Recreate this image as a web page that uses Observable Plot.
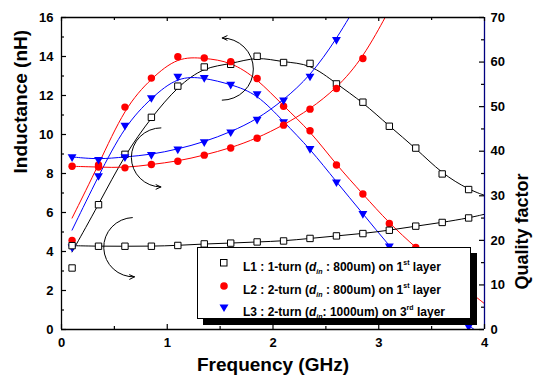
<!DOCTYPE html>
<html><head><meta charset="utf-8">
<script src="https://cdn.jsdelivr.net/npm/d3@7"></script>
<script src="https://cdn.jsdelivr.net/npm/@observablehq/plot@0.6"></script>
<style>
body{margin:0;background:#fff;}
#wrap{position:relative;width:533px;height:383px;font-family:"Liberation Sans",Arial,sans-serif;}
#legend{position:absolute;left:197px;top:247px;width:274px;height:72px;box-sizing:border-box;border:1px solid #000;background:#fff;box-shadow:6px 6px 0 #000;font-weight:bold;font-size:12px;}
#legend .row{position:absolute;left:0;height:16px;display:flex;align-items:center;white-space:nowrap;}
#legend .row svg{position:absolute;left:20px;top:2px;}
#legend .row span{position:absolute;left:45px;top:0;line-height:16px;}
#legend sub{font-size:7px;font-style:italic;vertical-align:-3px;}
#legend sup{font-size:7px;vertical-align:6px;}
</style></head>
<body><div id="wrap"></div>
<script>
// ---- data ----
const freq = [0.1, 0.35, 0.6, 0.85, 1.1, 1.35, 1.6, 1.85, 2.1, 2.35, 2.6, 2.85, 3.1, 3.35, 3.6, 3.85];
// Inductance (nH)
const L1_ind = [4.30, 4.27, 4.27, 4.27, 4.31, 4.39, 4.43, 4.49, 4.54, 4.67, 4.80, 4.92, 5.09, 5.30, 5.49, 5.72];
const L2_ind = [8.37, 8.33, 8.29, 8.46, 8.63, 8.94, 9.31, 9.81, 10.48, 11.30, 12.36, 13.90, 16.4, null, null, null];
const L3_ind = [8.85, 8.72, 8.85, 8.97, 9.25, 9.62, 10.13, 10.78, 11.76, 12.99, 14.87, 17.2, null, null, null, null];
// Quality factor
const L1_q = [13.8, 28.0, 39.3, 47.6, 54.6, 58.9, 59.5, 61.3, 59.9, 59.7, 55.1, 51.0, 45.6, 40.7, 34.9, 31.4];
const L2_q = [20.0, 36.9, 49.9, 56.4, 61.2, 60.9, 60.1, 56.3, 50.1, 44.6, 36.9, 30.4, 23.8, 18.4, 13.2, 8.6];
const L3_q = [18.5, 34.5, 45.8, 52.0, 56.8, 56.5, 55.0, 52.9, 46.6, 40.6, 33.1, 26.0, 18.7, 12.2, 6.2, 0.7];
// fitted-curve ends
const fitQStart = [17.4, 25.0, 22.3];
const fitQEnd = [30.1, 5.8, -1.5];
const fitIndEnd = [5.91, null, null];

const seriesNames = ["L1", "L2", "L3"];
const seriesColors = ["#000000", "#ff0000", "#0000ff"];
const seriesTurns = ["1-turn", "2-turn", "2-turn"];
const seriesDin = [" : 800um", " : 800um", ": 1000um"];
const seriesLayer = ["1", "1", "3"];
const seriesOrd = ["st", "st", "rd"];

const xTicks = [0, 1, 2, 3, 4];
const xMinor = [0.5, 1.5, 2.5, 3.5];
const lTicks = [0, 2, 4, 6, 8, 10, 12, 14, 16];
const lMinor = [1, 3, 5, 7, 9, 11, 13, 15];
const qTicks = [0, 10, 20, 30, 40, 50, 60, 70];
const qMinor = [5, 15, 25, 35, 45, 55, 65];

// curved arrows (annotation), in data units of the left axis
const arrows = [
  {x1: 1.52, y1: 11.76, x2: 1.52, y2: 14.95},
  {x1: 0.94, y1: 10.34, x2: 0.94, y2: 7.31},
  {x1: 0.67, y1: 5.74, x2: 0.69, y2: 2.70}
];

const xLabel = "Frequency (GHz)";
const yLabel = "Inductance (nH)";
const y2Label = "Quality factor";

// ---- helpers ----
const lMax = 16, qMax = 70;
const toY = q => q * lMax / qMax;
const indArr = [L1_ind, L2_ind, L3_ind];
const qArr = [L1_q, L2_q, L3_q];

const dotsInd = [], dotsQ = [], linesInd = [], linesQ = [];
seriesNames.forEach((s, k) => {
  freq.forEach((f, i) => {
    if (indArr[k][i] != null) { dotsInd.push({s, f, v: indArr[k][i]}); linesInd.push({s, f, v: indArr[k][i]}); }
    if (qArr[k][i] != null) dotsQ.push({s, f, v: toY(qArr[k][i])});
    if (qArr[k][i] != null && i > 0) linesQ.push({s, f, v: toY(qArr[k][i])});
    if (i === 0) linesQ.push({s, f, v: toY(fitQStart[k])});
  });
  if (fitIndEnd[k] != null) linesInd.push({s, f: 4, v: fitIndEnd[k]});
  linesQ.push({s, f: 4, v: toY(fitQEnd[k])});
});

const sqrt3 = Math.sqrt(3);
const triangleDown = {
  draw(ctx, size) {
    const y = -Math.sqrt(size / (sqrt3 * 3));
    ctx.moveTo(0, -y * 2);
    ctx.lineTo(-sqrt3 * y, y);
    ctx.lineTo(sqrt3 * y, y);
    ctx.closePath();
  }
};

const W = 423, H = 312;
const color = s => seriesColors[seriesNames.indexOf(s)];

const markFor = (data, s) => {
  const d = data.filter(e => e.s === s);
  if (s === "L1") return Plot.dot(d, {x: "f", y: "v", symbol: "square", r: 3.6, stroke: "#000", fill: "white", strokeWidth: 1, clip: true});
  if (s === "L2") return Plot.dot(d, {x: "f", y: "v", symbol: "circle", r: 3.7, fill: "#ff0000", stroke: "none", clip: true});
  return Plot.dot(d, {x: "f", y: "v", symbol: triangleDown, r: 3.3, fill: "#0000ff", stroke: "none", clip: true});
};

const fontOpts = {fontSize: 13, fontWeight: "bold", fontFamily: "Liberation Sans, Arial, sans-serif"};

const plot = Plot.plot({
  width: 533, height: 383,
  marginLeft: 61, marginRight: 49, marginTop: 17, marginBottom: 54,
  x: {domain: [0, 4]},
  y: {domain: [0, lMax]},
  style: {fontFamily: "Liberation Sans, Arial, sans-serif", fontWeight: "bold", fontSize: "13px", background: "white", overflow: "visible"},
  marks: [
    // fitted lines
    ...seriesNames.map(s => Plot.line(linesQ.filter(d => d.s === s), {x: "f", y: "v", stroke: color(s), strokeWidth: 1, curve: "basis", clip: true})),
    ...seriesNames.map(s => Plot.line(linesInd.filter(d => d.s === s), {x: "f", y: "v", stroke: color(s), strokeWidth: 1, curve: "basis", clip: true})),
    // markers
    ...seriesNames.map(s => markFor(dotsQ, s)),
    ...seriesNames.map(s => markFor(dotsInd, s)),
    // annotation arrows
    Plot.arrow(arrows, {x1: "x1", y1: "y1", x2: "x2", y2: "y2", bend: -90, headLength: 8, headAngle: 50, stroke: "#000", strokeWidth: 1}),
    // frame
    Plot.ruleY([0, lMax], {stroke: "#000", strokeWidth: 1.3}),
    Plot.ruleX([0], {stroke: "#000", strokeWidth: 1.3}),
    Plot.ruleX([4], {stroke: "#000080", strokeWidth: 1.3}),
    // inward ticks
    Plot.ruleX(xTicks, {x: d => d, insetTop: H - 5, stroke: "#000", strokeWidth: 1.2}),
    Plot.ruleX(xMinor, {x: d => d, insetTop: H - 3, stroke: "#000", strokeWidth: 1.2}),
    Plot.ruleX(xTicks, {x: d => d, insetBottom: H - 4, stroke: "#000", strokeWidth: 1.2}),
    Plot.ruleX(xMinor, {x: d => d, insetBottom: H - 3, stroke: "#000", strokeWidth: 1.2}),
    Plot.ruleY(lTicks, {y: d => d, insetRight: W - 5, stroke: "#000", strokeWidth: 1.2}),
    Plot.ruleY(lMinor, {y: d => d, insetRight: W - 3, stroke: "#000", strokeWidth: 1.2}),
    Plot.ruleY(qTicks.map(toY), {y: d => d, insetLeft: W - 5, stroke: "#000", strokeWidth: 1.2}),
    Plot.ruleY(qMinor.map(toY), {y: d => d, insetLeft: W - 3, stroke: "#000", strokeWidth: 1.2}),
    // axes labels
    Plot.axisX({ticks: xTicks, tickFormat: d => String(d), tickSize: 0, tickPadding: 8, label: null, ...fontOpts}),
    Plot.axisY({anchor: "left", ticks: lTicks, tickFormat: d => String(d), tickSize: 0, tickPadding: 8, label: null, ...fontOpts}),
    Plot.axisY({anchor: "right", ticks: qTicks.map(toY), tickFormat: d => String(Math.round(d * qMax / lMax)), tickSize: 0, tickPadding: 6, label: null, ...fontOpts}),
    Plot.text([xLabel], {text: d => d, frameAnchor: "bottom", dy: 41, fontSize: 19, fontWeight: "bold"}),
    Plot.text([yLabel], {text: d => d, frameAnchor: "left", dx: -41, rotate: -90, fontSize: 19, fontWeight: "bold"}),
    Plot.text([y2Label], {text: d => d, frameAnchor: "right", dx: 38, rotate: -90, fontSize: 18, fontWeight: "bold"})
  ]
});

const wrap = document.getElementById("wrap");
wrap.appendChild(plot);

// legend
const legend = document.createElement("div");
legend.id = "legend";
const rowTops = [7, 30, 52];
seriesNames.forEach((s, k) => {
  const row = document.createElement("div");
  row.className = "row";
  row.style.top = rowTops[k] + "px";
  let sym;
  if (k === 0) sym = '<svg width="12" height="12"><rect x="2.5" y="2.5" width="6.5" height="6.5" fill="white" stroke="#000" stroke-width="1"/></svg>';
  else if (k === 1) sym = '<svg width="12" height="12"><circle cx="6" cy="6" r="3.8" fill="#ff0000"/></svg>';
  else sym = '<svg width="12" height="12"><path d="M1.5,2.5 L10.5,2.5 L6,10 Z" fill="#0000ff"/></svg>';
  row.innerHTML = sym + '<span>' + s + ' : ' + seriesTurns[k] + ' (<i>d</i><sub>in</sub>' + seriesDin[k] +
    ') on ' + seriesLayer[k] + '<sup>' + seriesOrd[k] + '</sup> layer</span>';
  legend.appendChild(row);
});
wrap.appendChild(legend);
</script>
</body></html>
